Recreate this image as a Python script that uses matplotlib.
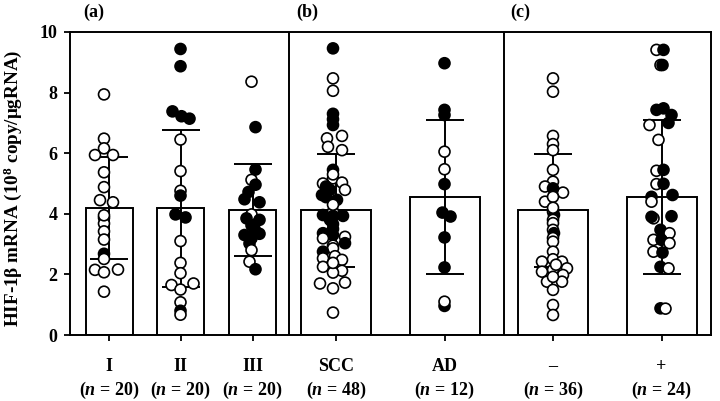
import numpy as np
import matplotlib.pyplot as plt

plt.rcParams['font.family'] = 'Liberation Serif'
plt.rcParams['font.weight'] = 'bold'
plt.rcParams['mathtext.fontset'] = 'custom'
plt.rcParams['mathtext.rm'] = 'Liberation Serif:bold'
plt.rcParams['mathtext.it'] = 'Liberation Serif:italic:bold'
plt.rcParams['mathtext.bf'] = 'Liberation Serif:bold'

# group summary
groups = ['I', 'II', 'III', 'SCC', 'AD', '\u2013', '+']
n_counts = [20, 20, 20, 48, 12, 36, 24]
means = [4.18, 4.18, 4.12, 4.12, 4.55, 4.12, 4.55]
sds = [1.68, 2.58, 1.51, 1.87, 2.53, 1.87, 2.53]

# individual samples: value, filled (1) / open (0)
vals_I = [7.94, 6.48, 6.16, 5.94, 5.94, 5.37, 4.88, 4.45, 4.38, 3.87, 3.68, 3.42, 3.15, 2.68, 2.51, 2.15, 2.07, 2.16, 1.43, 3.95]
fill_I = [0, 0, 0, 0, 0, 0, 0, 0, 0, 1, 0, 0, 0, 1, 0, 0, 0, 0, 0, 0]
vals_II = [9.44, 8.87, 7.38, 7.22, 7.14, 6.45, 5.41, 4.76, 4.60, 3.98, 3.88, 3.10, 2.38, 2.04, 1.65, 1.50, 1.70, 1.08, 0.80, 0.67]
fill_II = [1, 1, 1, 1, 1, 0, 0, 0, 1, 1, 1, 0, 0, 0, 0, 0, 0, 0, 1, 0]
vals_III = [8.36, 6.86, 5.46, 5.12, 4.96, 4.72, 4.48, 4.38, 3.98, 3.85, 3.80, 3.62, 3.30, 3.34, 3.19, 3.02, 2.80, 2.42, 2.17, 3.50]
fill_III = [0, 1, 1, 0, 1, 1, 1, 1, 0, 1, 1, 1, 1, 1, 1, 1, 0, 0, 1, 1]
vals_SCC = [9.46, 8.47, 8.06, 7.30, 7.12, 6.93, 6.49, 6.57, 6.21, 6.10,
            5.45, 5.17, 5.00, 5.03, 4.79, 4.79, 4.62, 4.46, 4.55, 4.07,
            3.96, 3.93, 3.93, 3.66, 3.50, 3.36, 3.30, 3.24, 3.19, 3.03,
            2.95, 2.86, 2.75, 2.60, 2.53, 2.48, 2.25, 2.12, 2.06, 1.70,
            1.54, 1.73, 0.74, 4.30, 3.80, 4.90, 5.30, 2.38]
fill_SCC = [1, 0, 0, 1, 1, 1, 0, 0, 0, 0,
            1, 0, 0, 0, 0, 1, 1, 1, 1, 0,
            1, 1, 1, 1, 1, 1, 1, 0, 0, 1,
            0, 0, 1, 0, 0, 0, 0, 0, 0, 0,
            0, 0, 0, 0, 1, 1, 0, 0]
vals_AD = [8.97, 7.43, 7.26, 6.05, 5.47, 4.98, 4.04, 3.91, 3.22, 2.23, 0.96, 1.10]
fill_AD = [1, 1, 1, 0, 0, 1, 1, 1, 1, 1, 1, 0]
vals_neg = [8.47, 8.03, 6.57, 6.30, 6.10, 5.45, 5.06, 4.90, 4.70, 4.84,
            4.40, 4.56, 4.07, 3.96, 3.80, 3.69, 3.47, 3.36, 3.20, 3.08,
            2.75, 2.50, 2.42, 2.42, 2.20, 2.15, 2.09, 1.98, 1.76, 1.76,
            1.92, 1.49, 0.99, 0.66, 2.32, 4.20]
fill_neg = [0, 0, 0, 0, 0, 0, 0, 0, 0, 1,
            0, 0, 0, 1, 0, 0, 0, 1, 0, 0,
            0, 0, 0, 0, 0, 0, 0, 0, 0, 0,
            0, 0, 0, 0, 0, 0]
vals_pos = [9.41, 9.41, 8.91, 8.91, 7.43, 7.48, 7.26, 6.93, 7.00, 6.44,
            5.42, 5.45, 4.98, 4.99, 4.56, 4.62, 4.40, 3.85, 3.90, 3.92,
            3.47, 3.36, 3.14, 3.14, 3.03, 2.75, 2.72, 2.25, 2.20, 0.88, 0.87]
fill_pos = [0, 1, 0, 1, 1, 1, 1, 0, 1, 0,
            0, 1, 0, 1, 1, 1, 0, 0, 1, 1,
            1, 0, 0, 1, 0, 0, 1, 1, 0, 1, 0]

# layout (x in pixel-like units)
centers = [109, 180.5, 252.5, 336, 444.5, 553, 661.5]
widths = [47, 47, 47, 70, 70, 70, 70]
jit_I = [-5, -5, -5, -14, 4, -5, -5, -9, 4, -5, -5, -5, -5, -5, -5, -14, -5, 9, -5, -5]
jit_II = [0, 0, -8, 1, 9, 0, 0, 0, 0, -5, 5, 0, 0, 0, -9, 0, 13, 0, 0, 0]
jit_III = [-1, 3, 3, -1, 3, -4, -8, 7, -1, -6, 7, -1, -8, 7, -1, -3, -1, -3, 3, 2]
jit_SCC = [-3, -3, -3, -3, -3, -3, -9, 6, -8, 6,
           -3, -3, -13, 6, 9, -6, -14, 1, -10, -3,
           -13, -3, 7, -3, -3, -13, -3, 9, -13, 9,
           -3, -3, -13, -1, -13, 6, -13, 6, -3, -16,
           -3, 9, -3, -3, -6, -10, -3, -3]
jit_AD = [0, 0, 0, 0, 0, 0, -2, 6, 0, 0, 0, 0]
jit_neg = [0, 0, 0, 0, 0, 0, 0, -8, 10, 0,
           -8, 0, 0, 1, 0, 0, 0, 1, 0, 0,
           0, 0, -11, 9, 14, 0, -11, 10, -6, 9,
           0, 0, 0, 0, 3, 0]
jit_pos = [-5, 2, -1, 1, -5, 2, 10, -12, 7, -3,
           -5, 2, -5, 2, -10, 11, -10, -8, -10, 10,
           -1, 8, -8, 0, 8, -8, 1, -1, 7, -1, 4]

all_vals = [vals_I, vals_II, vals_III, vals_SCC, vals_AD, vals_neg, vals_pos]
all_fill = [fill_I, fill_II, fill_III, fill_SCC, fill_AD, fill_neg, fill_pos]
all_jit = [jit_I, jit_II, jit_III, jit_SCC, jit_AD, jit_neg, jit_pos]

fig = plt.figure(figsize=(7.2, 4.01), dpi=100)
ax = fig.add_axes([70 / 720, 66 / 401, 641 / 720, 303 / 401])

ax.bar(centers, means, width=widths, facecolor='white', edgecolor='black',
       linewidth=1.4, zorder=1)
ax.errorbar(centers, means, yerr=sds, fmt='none', ecolor='black',
            elinewidth=1.4, capsize=13.5, capthick=1.4, zorder=2)

for c, v, f, j in zip(centers, all_vals, all_fill, all_jit):
    x = c + np.asarray(j, dtype=float)
    fc = ['black' if k else 'white' for k in f]
    ax.scatter(x, v, s=62, facecolors=fc, edgecolors='black',
               linewidths=1.2, zorder=3)

for xd in [288.5, 504]:
    ax.axvline(xd, color='black', linewidth=1.4, zorder=4)

ax.set_xlim(70, 711)
ax.set_ylim(0, 10)
ax.set_yticks([0, 2, 4, 6, 8, 10])
ax.set_xticks(centers)
ax.set_xticklabels([])
ax.tick_params(axis='both', direction='out', length=4, width=1.3, labelsize=13)
ax.tick_params(axis='y', pad=5)
for s in ax.spines.values():
    s.set_linewidth(1.4)

tr = ax.get_xaxis_transform()
for c, g, n in zip(centers, groups, n_counts):
    ax.text(c, -0.105, g, transform=tr, ha='center', va='center',
            fontsize=13, fontweight='bold')
    ax.text(c, -0.182, '($\\mathit{n}$ = %d)' % n, transform=tr,
            ha='center', va='center', fontsize=13, fontweight='bold')

for lab, xl in zip(['(a)', '(b)', '(c)'], [94, 307, 520]):
    ax.text(xl, 1.066, lab, transform=tr, ha='center', va='center',
            fontsize=13, fontweight='bold')

ax.set_ylabel('HIF-1\u03b2 mRNA (10$^{\\mathbf{8}}$ copy/\u03bcgRNA)',
              fontsize=13.8, fontweight='bold')
ax.yaxis.set_label_coords(-0.072, 0.485)

plt.savefig('out.png', dpi=100)
